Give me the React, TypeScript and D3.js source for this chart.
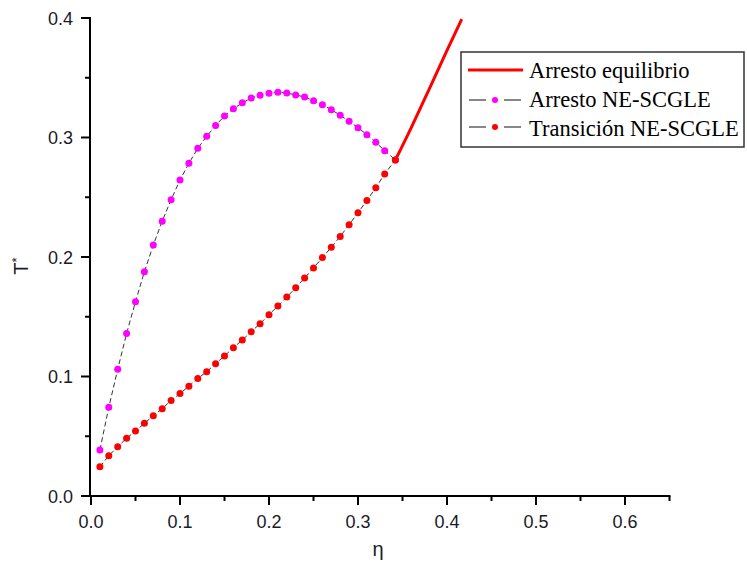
import React from "react";
import * as d3 from "d3";

const etaPoints = [0.01, 0.02, 0.03, 0.04, 0.05, 0.06, 0.07, 0.08, 0.09, 0.10, 0.11, 0.12, 0.13, 0.14, 0.15, 0.16, 0.17, 0.18, 0.19, 0.20, 0.21, 0.22, 0.23, 0.24, 0.25, 0.26, 0.27, 0.28, 0.29, 0.30, 0.31, 0.32, 0.33, 0.342];
const arrestoNE = [0.0385, 0.0742, 0.106, 0.136, 0.1626, 0.1877, 0.210, 0.230, 0.248, 0.2644, 0.2784, 0.291, 0.301, 0.310, 0.318, 0.324, 0.329, 0.333, 0.3353, 0.337, 0.3378, 0.3372, 0.3356, 0.3339, 0.3308, 0.3274, 0.3233, 0.3186, 0.3136, 0.3082, 0.3024, 0.2960, 0.2890, 0.2812];
const transicionNE = [0.0245, 0.0337, 0.0413, 0.0483, 0.0544, 0.0608, 0.0672, 0.0731, 0.0800, 0.0858, 0.0919, 0.0984, 0.104, 0.1107, 0.1172, 0.1241, 0.1305, 0.1375, 0.1442, 0.1517, 0.159, 0.1665, 0.1742, 0.1824, 0.1908, 0.1995, 0.2081, 0.2172, 0.227, 0.2371, 0.2473, 0.258, 0.2695, 0.2812];
const etaEq = [0.342, 0.36, 0.38, 0.40, 0.4165];
const arrestoEq = [0.2812, 0.3085, 0.3405, 0.373, 0.399];

const xMajor = [0, 0.1, 0.2, 0.3, 0.4, 0.5, 0.6];
const xMinor = [0.05, 0.15, 0.25, 0.35, 0.45, 0.55, 0.65];
const yMajor = [0, 0.1, 0.2, 0.3, 0.4];
const yMinor = [0.05, 0.15, 0.25, 0.35];

const legendLabels = ["Arresto equilibrio", "Arresto NE-SCGLE", "Transición NE-SCGLE"];

export default function App() {
  const x = d3.scaleLinear().domain([0, 0.65]).range([91, 669.5]);
  const y = d3.scaleLinear().domain([0, 0.4]).range([496, 18]);

  const ptsLine = d3
    .line<[number, number]>()
    .x((d) => x(d[0]))
    .y((d) => y(d[1]));
  const eqLine = d3
    .line<[number, number]>()
    .x((d) => x(d[0]))
    .y((d) => y(d[1]))
    .curve(d3.curveMonotoneX);

  const magenta = etaPoints.map((e, i) => [e, arrestoNE[i]] as [number, number]);
  const red = etaPoints.map((e, i) => [e, transicionNE[i]] as [number, number]);
  const eq = etaEq.map((e, i) => [e, arrestoEq[i]] as [number, number]);

  const tickFont = "'Liberation Sans', Arial, sans-serif";
  const x0 = x(0) - 1;
  const yBase = y(0);

  return (
    <svg
      width={747}
      height={575}
      style={{ position: "absolute", left: 0, top: 0, background: "#fff" }}
    >
      {/* connecting dashed lines */}
      <path d={ptsLine(magenta) || ""} fill="none" stroke="#333" strokeWidth={1} strokeDasharray="5,3" />
      <path d={ptsLine(red) || ""} fill="none" stroke="#333" strokeWidth={1} strokeDasharray="5,3" />
      {/* points */}
      {magenta.map((d, i) => (
        <circle key={"m" + i} cx={x(d[0])} cy={y(d[1])} r={3.5} fill="#ff00ff" />
      ))}
      {red.map((d, i) => (
        <circle key={"r" + i} cx={x(d[0])} cy={y(d[1])} r={3.5} fill="#ff0000" />
      ))}
      {/* equilibrium line */}
      <path d={eqLine(eq) || ""} fill="none" stroke="#ff0000" strokeWidth={3} />

      {/* axes */}
      <line x1={x0} x2={x0} y1={y(0.4) - 1} y2={yBase + 1} stroke="#000" strokeWidth={2} />
      <line x1={x0 - 1} x2={x(0.65) + 1} y1={yBase} y2={yBase} stroke="#000" strokeWidth={2} />
      {xMajor.map((t) => (
        <g key={"xM" + t}>
          <line x1={x(t)} x2={x(t)} y1={yBase} y2={yBase + 9} stroke="#000" strokeWidth={2} />
          <text x={x(t)} y={528} textAnchor="middle" fontFamily={tickFont} fontSize={18} fill="#1a1a2a">
            {t.toFixed(1)}
          </text>
        </g>
      ))}
      {xMinor.map((t) => (
        <line key={"xm" + t} x1={x(t)} x2={x(t)} y1={yBase} y2={yBase + 5} stroke="#000" strokeWidth={2} />
      ))}
      {yMajor.map((t) => (
        <g key={"yM" + t}>
          <line x1={x0 - 9} x2={x0} y1={y(t)} y2={y(t)} stroke="#000" strokeWidth={2} />
          <text x={73} y={y(t) + 6.5} textAnchor="end" fontFamily={tickFont} fontSize={18} fill="#1a1a2a">
            {t.toFixed(1)}
          </text>
        </g>
      ))}
      {yMinor.map((t) => (
        <line key={"ym" + t} x1={x0 - 5} x2={x0} y1={y(t)} y2={y(t)} stroke="#000" strokeWidth={2} />
      ))}

      {/* axis titles */}
      <text x={378} y={556} textAnchor="middle" fontFamily={tickFont} fontSize={20} fill="#1a1a2a">
        η
      </text>
      <text
        transform="translate(28,266) rotate(-90)"
        textAnchor="middle"
        fontFamily={tickFont}
        fontSize={20}
        fill="#1a1a2a"
      >
        T<tspan dy={-7} fontSize={13}>*</tspan>
      </text>

      {/* legend */}
      <rect x={461} y={52} width={283} height={95} fill="#fff" stroke="#333" strokeWidth={1.5} />
      <line x1={468} x2={523} y1={70} y2={70} stroke="#ff0000" strokeWidth={3} />
      {[100, 127].map((ly, i) => (
        <g key={"lg" + i}>
          <line x1={469} x2={486} y1={ly} y2={ly} stroke="#111" strokeWidth={1} />
          <line x1={504} x2={521} y1={ly} y2={ly} stroke="#111" strokeWidth={1} />
          <circle cx={495} cy={ly} r={3} fill={i === 0 ? "#ff00ff" : "#ff0000"} />
        </g>
      ))}
      {legendLabels.map((l, i) => (
        <text
          key={l}
          x={529}
          y={78 + i * 29}
          fontFamily="'Liberation Serif', 'Times New Roman', serif"
          fontSize={22.5}
          fill="#000"
        >
          {l}
        </text>
      ))}
    </svg>
  );
}
